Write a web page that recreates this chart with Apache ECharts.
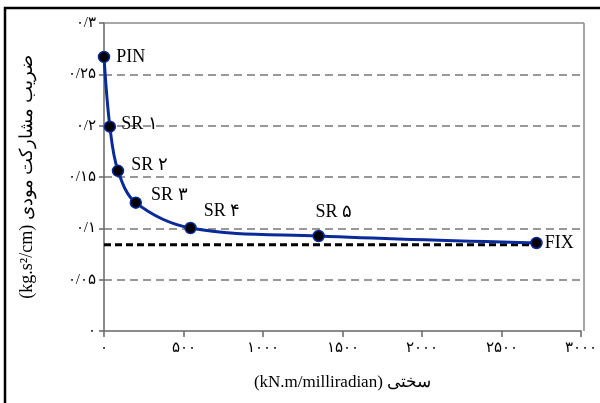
<!DOCTYPE html>
<html><head><meta charset="utf-8">
<script src="https://cdn.jsdelivr.net/npm/echarts@6/dist/echarts.min.js"></script>
<style>html,body{margin:0;padding:0;background:#fff}#c{width:600px;height:403px}</style>
</head><body><div id="c"></div>
<script>
const pointNames = ['PIN','SR ۱','SR ۲','SR ۳','SR ۴','SR ۵','FIX'];
const stiffness = [0, 37, 88, 200, 544, 1350, 2720];
const participation = [0.267, 0.199, 0.156, 0.125, 0.1003, 0.0925, 0.0857];
const fixLevel = 0.084;
const fixLineX = [0, 2720];
const yTickLabels = {'0':'۰','0.05':'۰/۰۵','0.1':'۰/۱','0.15':'۰/۱۵','0.2':'۰/۲','0.25':'۰/۲۵','0.3':'۰/۳'};
const xTickLabels = {'0':'۰','500':'۵۰۰','1000':'۱۰۰۰','1500':'۱۵۰۰','2000':'۲۰۰۰','2500':'۲۵۰۰','3000':'۳۰۰۰'};
const xTitle = '(kN.m/milliradian) سختی';
const yTitle = '(kg.s²/cm) ضریب مشارکت مودی';

const FONT = '"Liberation Serif", "DejaVu Serif", serif';
const labelCfg = [
  {position:'right', offset:[1,0]},
  {position:'right', offset:[0,-2]},
  {position:'right', offset:[2,-6]},
  {position:'right', offset:[4,-7]},
  {position:'right', offset:[2,-17]},
  {position:'top', offset:[15,-4]},
  {position:'right', offset:[-3,0]}
];
const data = stiffness.map((x,i)=>({
  value:[x, participation[i]],
  label:Object.assign({show:true, formatter:pointNames[i], color:'#000', fontSize:18, fontFamily:FONT}, labelCfg[i])
}));

const chart = echarts.init(document.getElementById('c'));
chart.setOption({
  animation:false,
  backgroundColor:'#fff',
  grid:{left:104, right:16, top:23, bottom:72, containLabel:false},
  xAxis:{
    type:'value', min:0, max:3000, interval:500,
    name:xTitle, nameLocation:'middle', nameGap:43,
    nameTextStyle:{fontSize:17, fontFamily:FONT, color:'#000'},
    axisLine:{show:true, lineStyle:{color:'#666', width:1.5}},
    axisTick:{show:true, length:6, lineStyle:{color:'#666', width:1.5}},
    axisLabel:{formatter:v=>xTickLabels[String(v)], fontSize:15, fontFamily:FONT, color:'#000', margin:10},
    splitLine:{show:false}
  },
  yAxis:{
    type:'value', min:0, max:0.3, interval:0.05,
    name:yTitle, nameLocation:'middle', nameGap:68, nameRotate:90,
    nameTextStyle:{fontSize:18, fontFamily:FONT, color:'#000'},
    axisLine:{show:true, lineStyle:{color:'#666', width:1.5}},
    axisTick:{show:true, length:5, lineStyle:{color:'#666', width:1.5}},
    axisLabel:{formatter:v=>yTickLabels[String(+v.toFixed(2))], fontSize:15, fontFamily:FONT, color:'#000', margin:8},
    splitLine:{show:true, showMinLine:false, showMaxLine:false, lineStyle:{color:'#777', width:1.5, type:[8,5]}}
  },
  series:[
    {
      type:'line', data:fixLineX.map(x=>[x, fixLevel]), symbol:'none',
      lineStyle:{color:'#000', width:3, type:[7,4]}, z:2, silent:true
    },
    {
      type:'line', data:data, smooth:0.35,
      symbol:'circle', symbolSize:11,
      itemStyle:{color:'#000', borderColor:'#0a2a9a', borderWidth:1.5},
      lineStyle:{color:'#0a2a9a', width:3}, z:3
    }
  ],
  graphic:[
    {type:'rect', shape:{x:5,y:8,width:600,height:400}, style:{fill:'none', stroke:'#000', lineWidth:2.5}, z:-1},
    {type:'line', shape:{x1:584,y1:23,x2:584,y2:331}, style:{stroke:'#888', lineWidth:1.5}, z:1},
    {type:'line', shape:{x1:104,y1:23,x2:584,y2:23}, style:{stroke:'#888', lineWidth:1.5}, z:1}
  ]
});
</script></body></html>
